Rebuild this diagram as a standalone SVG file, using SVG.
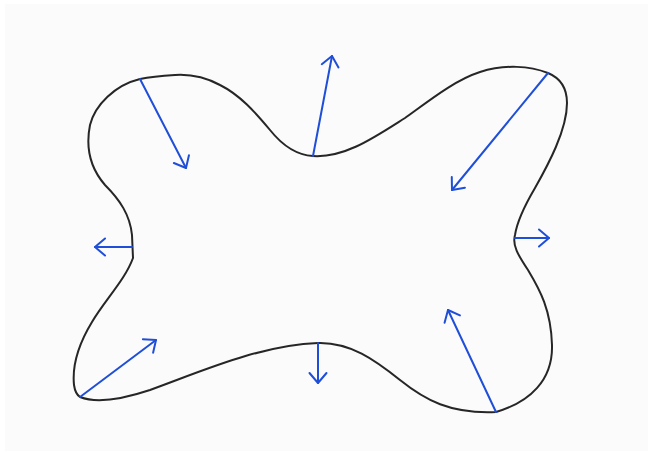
<svg xmlns="http://www.w3.org/2000/svg" width="653" height="455" viewBox="0 0 653 455">
<defs>
<style>
.blob{fill:none;stroke:#262626;stroke-width:2;stroke-linecap:round;stroke-linejoin:round}
.arr{fill:none;stroke:#1f4fd8;stroke-width:2;stroke-linecap:round;marker-end:url(#ah)}
</style>
<marker id="ah" markerUnits="userSpaceOnUse" markerWidth="30" markerHeight="30" refX="0" refY="0" viewBox="-15 -15 30 30" orient="auto" overflow="visible">
<path d="M-10,-8.5 L0,0 L-10,8.5" fill="none" stroke="#1f4fd8" stroke-width="2" stroke-linecap="round" stroke-linejoin="round"/>
</marker>
</defs>
<rect x="0" y="0" width="653" height="455" fill="#ffffff"/>
<rect x="5" y="4" width="643" height="447" fill="#fbfbfb"/>
<g id="shape">
<path class="blob" d="M140,79 C115,85 95,105 90,125 C85,150 92,170 105,185 C120,200 130,215 132,235 L133,258 C125,280 105,300 92,322 C78,345 72,365 74,385 C75,392 77,395 80,397 C95,403 120,400 150,390 C200,372 260,345 318,343 C350,342 375,360 400,380 C425,400 450,414 496,412 C530,402 553,380 552,345 C551,310 540,290 528,270 C518,255 512,245 515,235 C517,222 525,205 535,188 C548,165 567,130 567,103 C567,88 560,78 548,73 C530,66 505,64 480,72 C455,80 430,100 405,118 C375,137 345,158 313,156 C295,155 282,145 270,130 C255,112 240,95 220,85 C205,77 190,74 175,75 C160,76 150,77 140,79 Z"/>
</g>
<g id="connectors">
<line class="arr" x1="140" y1="79" x2="186" y2="168"/>
<line class="arr" x1="313" y1="156" x2="332" y2="56"/>
<line class="arr" x1="548" y1="73" x2="452" y2="190"/>
<line class="arr" x1="515" y1="238" x2="549" y2="238"/>
<line class="arr" x1="132" y1="247" x2="95" y2="247"/>
<line class="arr" x1="80" y1="397" x2="156" y2="340"/>
<line class="arr" x1="318" y1="343" x2="318" y2="383"/>
<line class="arr" x1="496" y1="412" x2="448" y2="310"/>
</g>
</svg>
